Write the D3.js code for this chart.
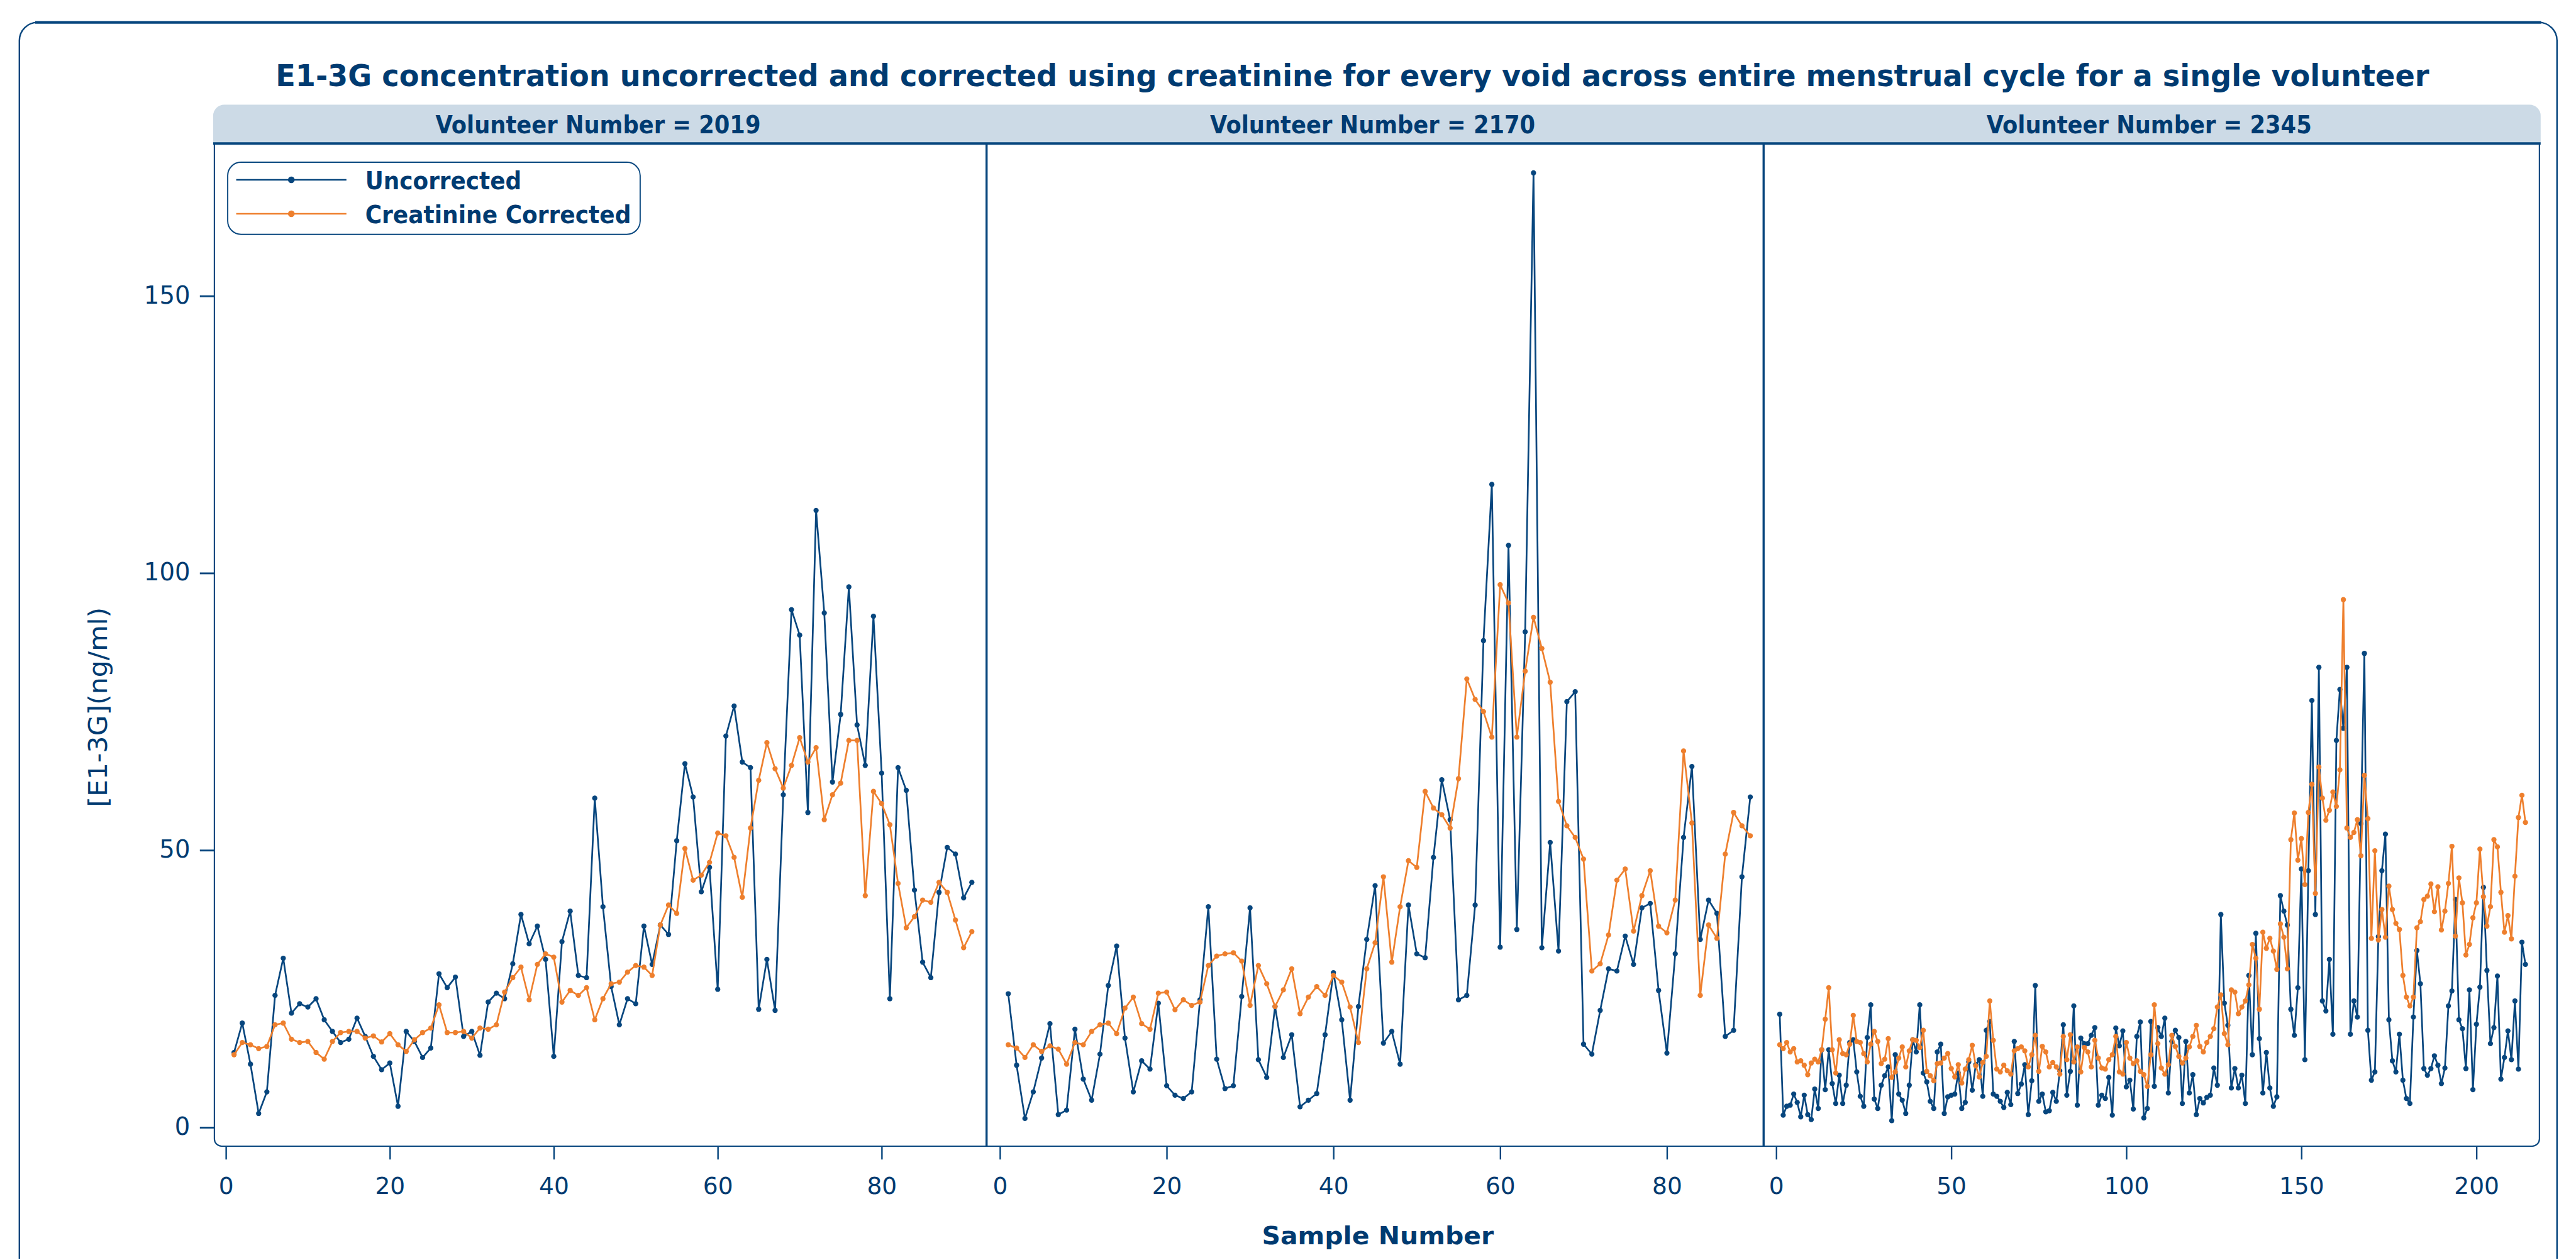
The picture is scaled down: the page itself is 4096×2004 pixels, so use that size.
<!DOCTYPE html>
<html>
<head>
<meta charset="utf-8">
<script src="https://cdn.jsdelivr.net/npm/d3@7"></script>
<style>
    html, body { margin: 0; padding: 0; background: #ffffff; }
    svg { display: block; }
</style>
</head>
<body>
<div id="chart"></div>
<script>

// ---- data ----

const volunteers = ["2019", "2170", "2345"];
const seriesNames = ["Uncorrected", "Creatinine Corrected"];

const yTicks = [0, 50, 100, 150];
const xTicks2019 = [0, 20, 40, 60, 80];
const xTicks2170 = [0, 20, 40, 60, 80];
const xTicks2345 = [0, 50, 100, 150, 200];

const uncorrected2019 = [13.5, 18.8, 11.4, 2.5, 6.4, 23.8, 30.5, 20.6, 22.3, 21.7, 23.2, 19.4, 17.3, 15.3, 15.9, 19.7, 16.4, 12.8, 10.4, 11.6,
    3.8, 17.3, 15.5, 12.6, 14.3, 27.7, 25.2, 27.1, 16.4, 17.3, 13.0, 22.6, 24.2, 23.2, 29.5, 38.4, 33.1, 36.3, 30.3, 12.8,
    33.5, 39.0, 27.4, 27.0, 59.4, 39.8, 25.4, 18.5, 23.2, 22.3, 36.3, 29.4, 36.5, 34.8, 51.7, 65.6, 59.6, 42.5, 46.9, 24.9,
    70.6, 76.0, 65.9, 64.9, 21.3, 30.3, 21.1, 60.0, 93.4, 88.8, 56.8, 111.3, 92.8, 62.3, 74.5, 97.5, 72.6, 65.3, 92.2, 63.9,
    23.2, 64.9, 60.8, 42.8, 29.8, 27.0, 42.4, 50.5, 49.3, 41.4, 44.2];
const corrected2019 = [13.1, 15.3, 14.9, 14.2, 14.6, 18.5, 18.8, 15.9, 15.3, 15.5, 13.5, 12.3, 15.5, 17.1, 17.3, 17.3, 16.1, 16.5, 15.4, 16.9,
    14.9, 13.7, 15.8, 17.1, 17.9, 22.1, 17.1, 17.1, 17.3, 16.1, 17.9, 17.7, 18.5, 24.4, 27.0, 28.9, 23.0, 29.4, 31.3, 30.7,
    22.6, 24.7, 23.8, 25.2, 19.4, 23.2, 25.9, 26.2, 28.0, 29.2, 28.9, 27.4, 36.5, 40.1, 38.6, 50.3, 44.6, 45.5, 47.8, 53.1,
    52.6, 48.7, 41.5, 54.0, 62.6, 69.4, 64.7, 61.2, 65.3, 70.3, 65.9, 68.5, 55.5, 60.0, 62.1, 69.8, 69.8, 41.8, 60.6, 58.4,
    54.6, 44.0, 36.0, 38.0, 41.0, 40.6, 44.2, 42.4, 37.4, 32.4, 35.3];

const uncorrected2170 = [24.1, 11.2, 1.6, 6.4, 12.5, 18.7, 2.3, 3.1, 17.7, 8.7, 4.9, 13.2, 25.6, 32.7, 16.1, 6.4, 12.0, 10.5, 22.4, 7.5,
    5.8, 5.2, 6.4, 23.0, 39.8, 12.3, 7.0, 7.5, 23.6, 39.6, 12.2, 9.0, 21.8, 12.6, 16.7, 3.7, 4.9, 6.1, 16.7, 27.9,
    19.4, 4.9, 21.8, 33.9, 43.6, 15.2, 17.3, 11.4, 40.1, 31.3, 30.6, 48.7, 62.7, 55.5, 23.0, 23.8, 40.1, 87.8, 116.0, 32.5,
    105.0, 35.7, 89.4, 172.2, 32.4, 51.4, 31.8, 76.8, 78.6, 15.0, 13.2, 21.1, 28.6, 28.2, 34.5, 29.4, 39.6, 40.4, 24.7, 13.4,
    31.3, 52.3, 65.1, 33.9, 41.0, 38.6, 16.4, 17.5, 45.2, 59.6];
const corrected2170 = [14.9, 14.3, 12.6, 14.9, 13.7, 14.7, 14.1, 11.4, 15.3, 14.9, 17.3, 18.5, 18.8, 16.9, 21.5, 23.5, 18.7, 17.7, 24.2, 24.4,
    21.2, 23.0, 22.0, 22.6, 29.2, 30.9, 31.3, 31.5, 30.0, 22.0, 29.2, 25.9, 21.8, 24.8, 28.6, 20.5, 23.5, 25.4, 23.8, 27.4,
    26.2, 21.7, 15.3, 28.6, 33.3, 45.2, 29.8, 39.8, 48.1, 46.9, 60.6, 57.6, 56.4, 54.0, 62.9, 80.9, 77.2, 75.0, 70.4, 97.9,
    94.6, 70.4, 82.3, 92.0, 86.4, 80.3, 58.8, 54.4, 52.3, 48.4, 28.2, 29.5, 34.7, 44.6, 46.6, 35.4, 41.8, 46.3, 36.3, 35.1,
    41.0, 67.9, 54.9, 23.8, 36.5, 34.1, 49.3, 56.8, 54.4, 52.6];

const uncorrected2345 = [20.4, 2.2, 3.8, 4.0, 6.0, 4.5, 1.9, 5.8, 2.3, 1.4, 6.9, 3.4, 14.0, 6.8, 14.0, 7.9, 4.3, 9.4, 4.3, 7.6,
    15.3, 15.8, 10.0, 5.6, 3.8, 16.2, 22.1, 5.1, 3.4, 7.6, 9.3, 10.9, 1.2, 13.1, 6.0, 4.9, 2.5, 7.6, 15.8, 13.6,
    22.1, 9.8, 8.2, 4.7, 3.4, 13.6, 15.0, 2.5, 5.5, 5.8, 6.0, 9.8, 3.4, 4.5, 11.8, 6.7, 11.3, 12.2, 5.6, 17.5,
    19.1, 6.0, 5.6, 4.7, 3.6, 6.3, 4.1, 15.5, 6.1, 7.8, 11.3, 2.3, 8.4, 25.6, 4.7, 6.0, 2.8, 3.0, 6.3, 4.7,
    10.2, 18.5, 5.8, 10.1, 21.9, 4.0, 16.1, 15.1, 15.1, 16.6, 18.0, 4.0, 5.8, 5.2, 9.0, 2.2, 17.9, 14.7, 17.4, 7.3,
    8.5, 3.3, 16.4, 19.0, 1.7, 3.4, 19.1, 7.4, 18.0, 16.4, 19.7, 6.2, 15.5, 17.5, 16.2, 4.3, 15.5, 6.2, 9.5, 2.3,
    5.2, 4.4, 5.4, 5.8, 10.7, 7.6, 38.4, 22.4, 18.4, 7.1, 10.6, 7.1, 9.4, 4.3, 27.4, 13.1, 35.0, 16.0, 6.2, 13.5,
    7.1, 3.8, 5.5, 41.8, 39.0, 36.5, 21.3, 16.6, 25.2, 46.6, 12.2, 46.3, 77.0, 38.4, 83.0, 22.8, 21.0, 30.3, 16.8, 69.8,
    79.0, 72.0, 83.0, 16.8, 22.8, 19.9, 54.8, 85.5, 17.5, 8.5, 10.0, 34.4, 46.3, 52.9, 19.4, 12.0, 10.0, 16.8, 8.5, 5.2,
    4.3, 19.9, 31.9, 25.9, 10.6, 9.4, 10.6, 12.9, 11.2, 7.9, 10.7, 21.9, 24.6, 41.1, 19.4, 17.8, 10.6, 24.8, 6.8, 18.6,
    25.3, 43.3, 28.3, 15.1, 18.0, 27.3, 8.7, 12.6, 17.4, 12.2, 22.8, 10.5, 33.4, 29.4];
const corrected2345 = [14.9, 14.2, 15.3, 13.6, 14.2, 11.8, 12.0, 11.2, 9.5, 11.6, 12.3, 11.8, 14.0, 19.5, 25.2, 14.0, 9.8, 15.8, 13.3, 13.1,
    15.0, 20.2, 15.5, 15.3, 13.3, 11.8, 15.0, 17.3, 15.5, 11.5, 12.3, 16.0, 9.0, 10.0, 12.5, 14.5, 10.9, 13.8, 15.8, 15.7,
    14.4, 17.5, 10.1, 9.3, 8.4, 11.5, 11.6, 12.5, 13.3, 10.6, 9.1, 11.3, 8.0, 10.5, 12.2, 14.8, 11.1, 9.1, 11.7, 12.8,
    22.8, 15.7, 10.5, 10.0, 11.2, 10.2, 9.6, 13.8, 14.2, 14.5, 13.8, 10.9, 13.1, 16.6, 10.1, 14.6, 13.6, 10.9, 11.7, 10.9,
    9.6, 16.4, 12.2, 16.7, 11.8, 14.5, 10.0, 14.4, 13.6, 10.9, 15.7, 12.5, 10.7, 10.5, 12.2, 13.1, 16.4, 10.0, 9.6, 15.3,
    12.5, 11.5, 12.0, 10.1, 9.5, 7.4, 13.1, 22.1, 15.1, 10.7, 9.6, 11.3, 16.6, 14.6, 12.8, 11.6, 12.5, 14.5, 16.4, 18.4,
    14.6, 13.6, 15.3, 16.4, 17.8, 21.7, 23.9, 16.9, 14.9, 24.8, 24.4, 20.5, 21.7, 22.8, 25.7, 33.0, 30.5, 21.3, 35.2, 32.3,
    34.1, 31.8, 28.5, 36.7, 34.3, 28.6, 51.9, 56.7, 48.2, 52.1, 43.8, 56.8, 61.9, 42.2, 65.0, 59.4, 55.4, 57.2, 60.5, 57.9,
    64.5, 95.2, 54.0, 52.3, 53.2, 55.5, 49.0, 63.5, 55.7, 34.1, 49.9, 33.8, 39.3, 34.3, 43.5, 39.3, 36.8, 35.7, 27.4, 23.5,
    21.9, 23.5, 36.0, 37.1, 41.1, 41.7, 43.9, 38.9, 43.4, 35.6, 39.0, 44.0, 50.7, 34.5, 45.0, 40.5, 31.1, 33.0, 37.8, 40.5,
    50.2, 41.6, 36.3, 39.8, 51.9, 50.6, 42.4, 35.2, 38.2, 34.0, 45.3, 55.9, 59.9, 55.0];


/* * * * * * * * * * * * * *
*      FacetLineChart      *
* * * * * * * * * * * * * */

class FacetLineChart {

    constructor(parentElement) {
        this.parentElement = parentElement;

        // colours
        this.navy = "#003b71";
        this.blue = "#07467e";
        this.orange = "#ee7f2d";
        this.strip = "#ccdae6";

        this.initVis();
    }

    initVis() {
        let vis = this;

        // layout is worked out in reference pixels, then scaled down to the window
        vis.scale = 0.963;
        vis.width = 4096;
        vis.height = 2004;

        vis.plot = {top: 237, bottom: 1893, left: 354, right: 4193};
        vis.panelEdges = [354, 1629, 2912, 4193];

        vis.svg = d3.select("#" + vis.parentElement).append("svg")
            .attr("width", vis.width)
            .attr("height", vis.height);

        vis.g = vis.svg.append("g")
            .attr("transform", `scale(${vis.scale})`);

        vis.y = d3.scaleLinear()
            .domain([-3.4, 177.5])
            .range([vis.plot.bottom, vis.plot.top]);

        vis.wrangleData();
    }

    wrangleData() {
        let vis = this;

        let toPoints = arr => arr.map((v, i) => ({sample: i + 1, value: v}));

        vis.panels = [
            {id: volunteers[0], unc: toPoints(uncorrected2019), cor: toPoints(corrected2019), domain: [-1.4, 92.8], ticks: xTicks2019},
            {id: volunteers[1], unc: toPoints(uncorrected2170), cor: toPoints(corrected2170), domain: [-1.6, 91.6], ticks: xTicks2170},
            {id: volunteers[2], unc: toPoints(uncorrected2345), cor: toPoints(corrected2345), domain: [-3.6, 218], ticks: xTicks2345}
        ];

        vis.panels.forEach((p, i) => {
            p.x0 = vis.panelEdges[i];
            p.x1 = vis.panelEdges[i + 1];
            p.x = d3.scaleLinear().domain(p.domain).range([p.x0, p.x1]);
        });

        vis.updateVis();
    }

    updateVis() {
        let vis = this;
        let g = vis.g;
        let P = vis.plot;

        // outer card frame (open at the bottom)
        g.append("path")
            .attr("d", "M32,2079 L32,67 A30,30 0 0 1 62,37 L4192,37 A30,30 0 0 1 4222,67 L4222,2079")
            .attr("fill", "none")
            .attr("stroke", vis.blue)
            .attr("stroke-width", 2.5);
        g.append("line")
            .attr("x1", 58).attr("x2", 4196).attr("y1", 37).attr("y2", 37)
            .attr("stroke", vis.blue).attr("stroke-width", 4.5);

        // title
        g.append("text")
            .attr("x", 2233).attr("y", 142)
            .attr("text-anchor", "middle")
            .attr("font-family", "DejaVu Sans")
            .attr("font-weight", "bold")
            .attr("font-size", 49)
            .attr("fill", vis.navy)
            .attr("textLength", 3556)
            .attr("lengthAdjust", "spacingAndGlyphs")
            .text("E1-3G concentration uncorrected and corrected using creatinine for every void across entire menstrual cycle for a single volunteer");

        // facet strip
        g.append("path")
            .attr("d", `M352,${P.top} V191 A18,18 0 0 1 370,173 H4177 A18,18 0 0 1 4195,191 V${P.top} Z`)
            .attr("fill", vis.strip);

        g.selectAll(".strip-label")
            .data(vis.panels)
            .enter()
            .append("text")
            .attr("class", "strip-label")
            .attr("x", d => (d.x0 + d.x1) / 2 - 4)
            .attr("y", 220)
            .attr("text-anchor", "middle")
            .attr("font-family", "DejaVu Sans")
            .attr("font-weight", "bold")
            .attr("font-size", 40)
            .attr("fill", vis.navy)
            .attr("textLength", 537)
            .attr("lengthAdjust", "spacingAndGlyphs")
            .text(d => "Volunteer Number = " + d.id);

        // panels
        let line = x => d3.line()
            .x(d => x(d.sample))
            .y(d => vis.y(d.value));

        vis.panels.forEach(p => {
            let pg = g.append("g").attr("class", "panel");

            let clipId = "clip-" + p.id;
            pg.append("clipPath").attr("id", clipId)
                .append("rect")
                .attr("x", p.x0).attr("y", P.top)
                .attr("width", p.x1 - p.x0).attr("height", P.bottom - P.top);

            let series = [
                {data: p.unc, color: vis.blue},
                {data: p.cor, color: vis.orange}
            ];

            series.forEach(s => {
                let sg = pg.append("g").attr("clip-path", `url(#${clipId})`);

                sg.append("path")
                    .datum(s.data)
                    .attr("d", line(p.x))
                    .attr("fill", "none")
                    .attr("stroke", s.color)
                    .attr("stroke-width", 2.8)
                    .attr("stroke-linejoin", "round");

                sg.selectAll("circle")
                    .data(s.data)
                    .enter()
                    .append("circle")
                    .attr("cx", d => p.x(d.sample))
                    .attr("cy", d => vis.y(d.value))
                    .attr("r", 4.3)
                    .attr("fill", s.color);
            });

            // x axis
            let xAxis = d3.axisBottom(p.x)
                .tickValues(p.ticks)
                .tickSize(22)
                .tickPadding(0)
                .tickFormat(d3.format("d"));

            let ax = pg.append("g")
                .attr("transform", `translate(0, ${P.bottom})`)
                .call(xAxis);
            ax.select(".domain").remove();
            ax.selectAll("line").attr("stroke", vis.blue).attr("stroke-width", 2.5);
            ax.selectAll("text")
                .attr("y", 79)
                .attr("dy", null)
                .attr("font-family", "DejaVu Sans")
                .attr("font-size", 39)
                .attr("fill", vis.navy);
        });

        // panel box with rounded bottom corners, dividers
        g.append("path")
            .attr("d", `M${P.left},${P.top} V${P.bottom - 12} A12,12 0 0 0 ${P.left + 12},${P.bottom} H${P.right - 12} A12,12 0 0 0 ${P.right},${P.bottom - 12} V${P.top}`)
            .attr("fill", "none")
            .attr("stroke", vis.blue)
            .attr("stroke-width", 2.2);

        g.selectAll(".divider")
            .data(vis.panelEdges.slice(1, 3))
            .enter()
            .append("line")
            .attr("class", "divider")
            .attr("x1", d => d).attr("x2", d => d)
            .attr("y1", P.top).attr("y2", P.bottom)
            .attr("stroke", vis.blue)
            .attr("stroke-width", 3.5);

        g.append("line")
            .attr("x1", 352).attr("x2", 4195)
            .attr("y1", P.top).attr("y2", P.top)
            .attr("stroke", vis.blue).attr("stroke-width", 4);

        // y axis
        let yAxis = d3.axisLeft(vis.y)
            .tickValues(yTicks)
            .tickSize(24)
            .tickPadding(16)
            .tickFormat(d3.format("d"));

        let ay = g.append("g")
            .attr("transform", `translate(${P.left}, 0)`)
            .call(yAxis);
        ay.select(".domain").remove();
        ay.selectAll("line").attr("stroke", vis.blue).attr("stroke-width", 3);
        ay.selectAll("text")
            .attr("font-family", "DejaVu Sans")
            .attr("font-size", 40)
            .attr("dy", "0.3em")
            .attr("fill", vis.navy);

        // axis titles
        g.append("text")
            .attr("transform", "translate(177, 1168) rotate(-90)")
            .attr("text-anchor", "middle")
            .attr("font-family", "DejaVu Sans")
            .attr("font-size", 42)
            .attr("fill", vis.navy)
            .attr("textLength", 330)
            .attr("lengthAdjust", "spacingAndGlyphs")
            .text("[E1-3G](ng/ml)");

        g.append("text")
            .attr("x", 2275).attr("y", 2055)
            .attr("text-anchor", "middle")
            .attr("font-family", "DejaVu Sans")
            .attr("font-weight", "bold")
            .attr("font-size", 41)
            .attr("fill", vis.navy)
            .attr("textLength", 383)
            .attr("lengthAdjust", "spacingAndGlyphs")
            .text("Sample Number");

        // legend
        let lg = g.append("g").attr("class", "legend");
        lg.append("rect")
            .attr("x", 376).attr("y", 268)
            .attr("width", 681).attr("height", 119)
            .attr("rx", 22)
            .attr("fill", "#ffffff")
            .attr("stroke", vis.blue)
            .attr("stroke-width", 2);

        let legendRows = [
            {name: seriesNames[0], color: vis.blue, y: 297, len: 258},
            {name: seriesNames[1], color: vis.orange, y: 353, len: 439}
        ];

        legendRows.forEach(r => {
            lg.append("line")
                .attr("x1", 390).attr("x2", 572)
                .attr("y1", r.y).attr("y2", r.y)
                .attr("stroke", r.color).attr("stroke-width", 2.7);
            lg.append("circle")
                .attr("cx", 481).attr("cy", r.y).attr("r", 5.5)
                .attr("fill", r.color);
            lg.append("text")
                .attr("x", 603).attr("y", r.y + 16)
                .attr("font-family", "DejaVu Sans")
                .attr("font-weight", "bold")
                .attr("font-size", 40)
                .attr("fill", vis.navy)
                .attr("textLength", r.len)
                .attr("lengthAdjust", "spacingAndGlyphs")
                .text(r.name);
        });
    }
}

new FacetLineChart("chart");

</script>
</body>
</html>
